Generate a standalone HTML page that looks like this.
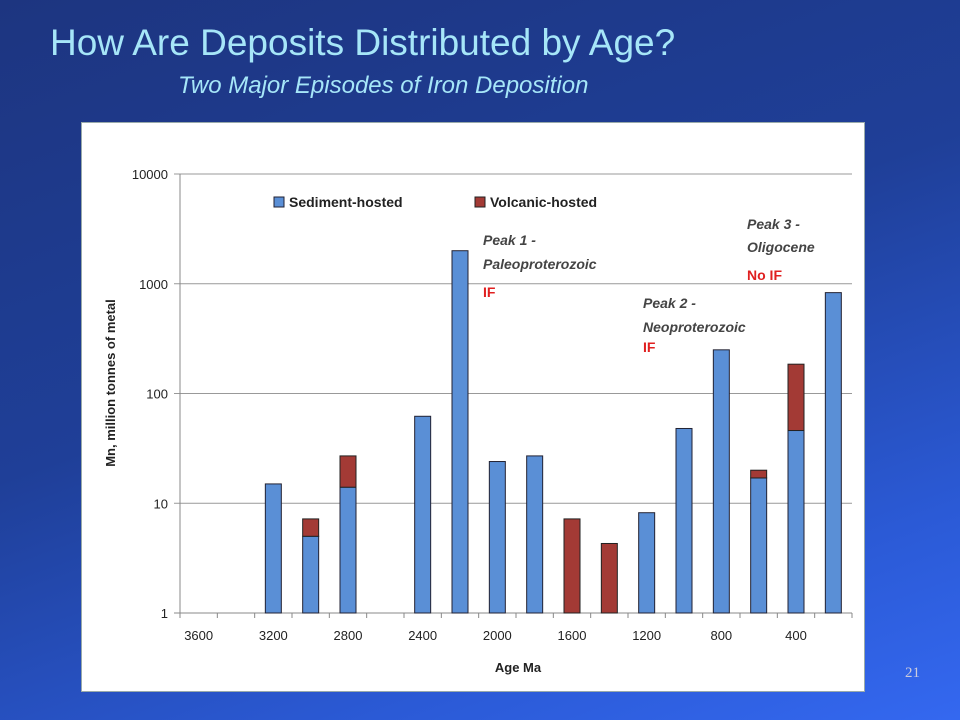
<!DOCTYPE html>
<html><head><meta charset="utf-8"><style>
body{margin:0;width:960px;height:720px;overflow:hidden;background:linear-gradient(160deg,#1d3580 0%,#1f3f98 45%,#2b5ad6 80%,#3468f0 100%);font-family:"Liberation Sans",sans-serif;position:relative}
#title{position:absolute;left:50px;top:22px;font-size:37px;color:#a6e6f8;white-space:nowrap}
#sub{position:absolute;left:178px;top:72px;font-size:24px;font-style:italic;color:#a6e6f8}
#panel{position:absolute;left:81px;top:122px;width:782px;height:568px;background:#fff;border:1px solid #9aa}
#pg{position:absolute;left:905px;top:665px;color:#ccd;font-family:"Liberation Serif",serif;font-size:15px}
svg{position:absolute;left:0;top:0}
</style></head><body>
<div id="title">How Are Deposits Distributed by Age?</div>
<div id="sub">Two Major Episodes of Iron Deposition</div>
<div id="panel"></div>
<div id="pg">21</div>
<svg id="chart" width="960" height="720"></svg>
<script>
const categories=[3600,3400,3200,3000,2800,2600,2400,2200,2000,1800,1600,1400,1200,1000,800,600,400,200];
const sediment=[0,0,15,5,14,0,62,2000,24,27,0,0,8.2,48,250,17,46,830];
const volcanic=[0,0,0,2.2,13,0,0,0,0,0,6.2,3.3,0,0,0,3,139,0];
const yTicks=[1,10,100,1000,10000];
const xLabels=[3600,3200,2800,2400,2000,1600,1200,800,400];
const X0=180,X1=852,Y0=613,Y1=174;
const slot=(X1-X0)/categories.length;
const y=v=>Y0-(Math.log10(v)/4)*(Y0-Y1);
const xc=i=>X0+slot*(i+0.5);
const svg=document.getElementById('chart');
const NS='http://www.w3.org/2000/svg';
function mk(t,a){const e=document.createElementNS(NS,t);for(const k in a)e.setAttribute(k,a[k]);svg.appendChild(e);return e;}
yTicks.forEach(v=>{
 const l=mk('line',{x1:X0-6,x2:X1,y1:y(v),y2:y(v),stroke:v===1?'#888':'#999','stroke-width':1});
 
 
 const t=mk('text',{x:X0-12,y:y(v)+5,'text-anchor':'end','font-size':13,fill:'#222'});t.textContent=v;
 
 
});
mk('line',{x1:X0,x2:X0,y1:Y1,y2:Y0,stroke:'#888'});
for(let i=0;i<=categories.length;i++){mk('line',{x1:X0+slot*i,x2:X0+slot*i,y1:Y0,y2:Y0+5,stroke:'#888'});}
categories.forEach((c,i)=>{
 if(xLabels.includes(c)){const t=mk('text',{x:xc(i),y:Y0+27,'text-anchor':'middle','font-size':13,fill:'#222'});t.textContent=c;
 
 }
 const w=16,s=sediment[i],v=volcanic[i];
 if(s>0){const r=mk('rect',{x:xc(i)-w/2,y:y(s),width:w,height:Y0-y(s),fill:'#5a8fd6',stroke:'#223','stroke-width':1});
 
 }
 if(v>0){const base=s>0?s:1;const r=mk('rect',{x:xc(i)-w/2,y:y(base+v),width:w,height:y(base)-y(base+v),fill:'#a33a35',stroke:'#222','stroke-width':1});
 
 }
});
function txt(x,yy,s,o){const t=mk('text',Object.assign({x:x,y:yy,'font-size':13,fill:'#222'},o||{}));t.textContent=s;return t;}
let t;
t=txt(518,672,'Age Ma',{'text-anchor':'middle','font-weight':'bold'});
t=txt(0,0,'Mn, million tonnes of metal',{'text-anchor':'middle','font-weight':'bold',transform:'translate(115,383) rotate(-90)'});
let r=mk('rect',{x:274,y:197,width:10,height:10,fill:'#5a8fd6',stroke:'#223'});
t=txt(289,207,'Sediment-hosted',{'font-weight':'bold','font-size':14});
r=mk('rect',{x:475,y:197,width:10,height:10,fill:'#a33a35',stroke:'#222'});
t=txt(490,207,'Volcanic-hosted',{'font-weight':'bold','font-size':14});
const ann=[[483,245,'Peak 1 -','#444'],[483,269,'Paleoproterozoic','#444'],[483,297,'IF','#e02020'],[643,308,'Peak 2 -','#444'],[643,332,'Neoproterozoic','#444'],[643,352,'IF','#e02020'],[747,229,'Peak  3 -','#444'],[747,252,'Oligocene','#444'],[747,280,'No IF','#e02020']];
ann.forEach(a=>{const t=txt(a[0],a[1],a[2],{'font-size':14,'font-weight':'bold',fill:a[3],'font-style':a[3]==='#444'?'italic':'normal'});});
</script>
</body></html>
